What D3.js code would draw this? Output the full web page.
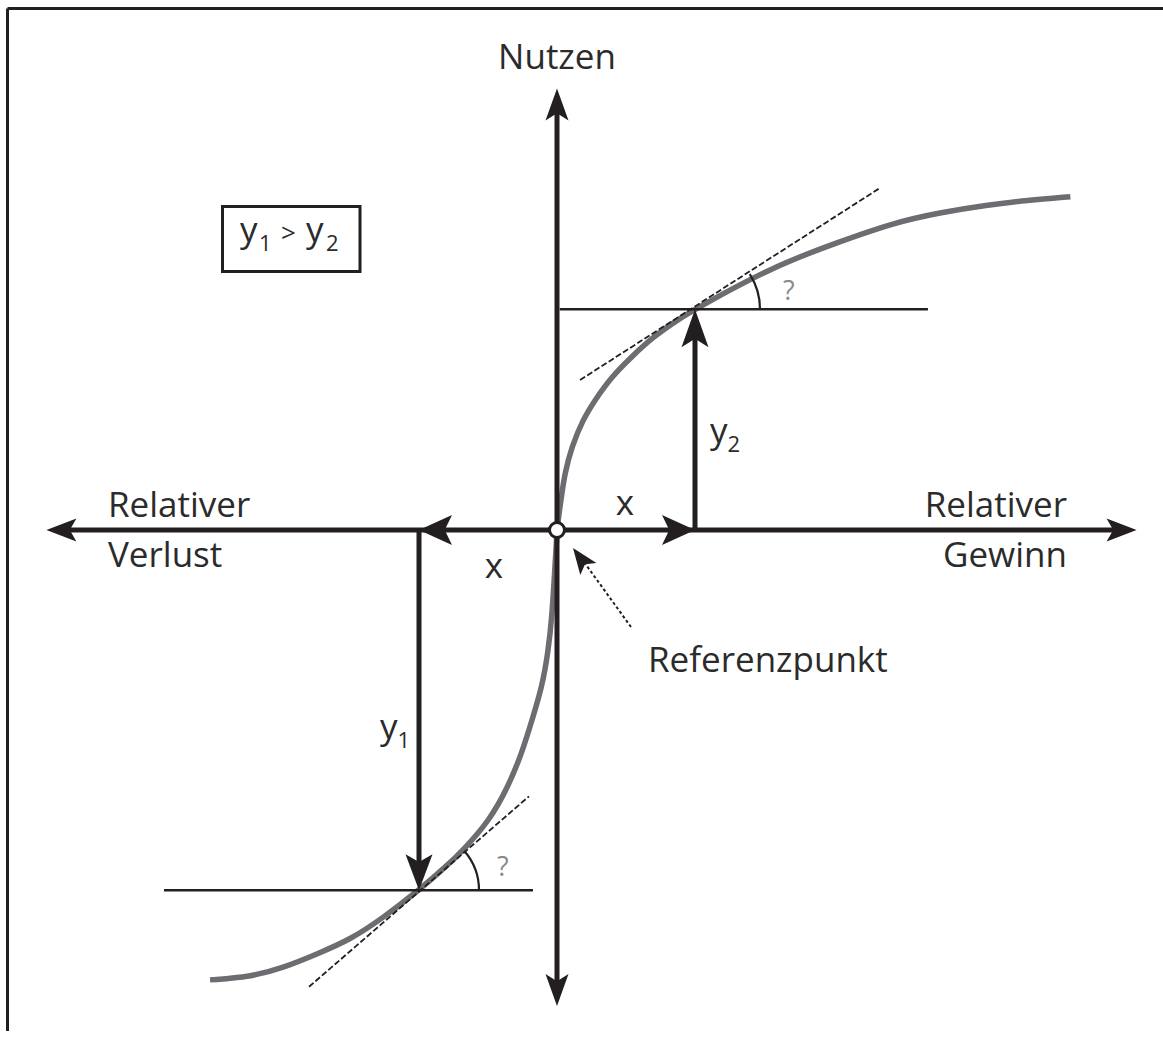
<!DOCTYPE html>
<html>
<head>
<meta charset="utf-8">
<script src="https://cdn.jsdelivr.net/npm/d3@7"></script>
<style>
  body { margin: 0; background: #fff; }
  svg text { font-family: "Open Sans", "DejaVu Sans", sans-serif; fill: #2b2b2b; }
</style>
</head>
<body>
<div id="chart"></div>
<script>
// value function (Wertfunktion), units: x step = 100
var axisExtentX = [-370, 420];
var axisExtentY = [-345, 320];

var curveLoss = [
  [-251.4, -326], [-222.5, -323.9], [-198.6, -317.4], [-173.9, -307.2],
  [-150, -297], [-126, -281], [-100, -261], [-80, -243.5], [-68, -232],
  [-48.6, -210.1], [-35.5, -186.2], [-25.4, -161.6], [-18.1, -137.7],
  [-10.9, -113.8], [-6.5, -89.1], [-3.6, -62], [-1.8, -32], [-0.6, -12]
];
var curveGain = [
  [0, 0], [1.2, 10], [3.2, 24], [5.6, 41], [10.7, 60.4], [18.6, 79.7], [27.5, 94.2],
  [39.6, 111.1], [54.1, 125.6], [69.8, 140.1], [89.1, 153.4], [100, 160], [156.5, 191],
  [205, 209], [243.5, 222.5], [277.5, 230], [311.6, 235.5], [340.6, 238.8], [372, 241.5]
];

var xGain = 100, xLoss = -100;   // x
var yGain = 160, yLoss = -261;   // y2, y1

var tangentGain = [[16.7, 108.7], [234, 247.8]];
var tangentLoss = [[-179.7, -331], [-20.3, -193]];
var helperGain = [2, 268.8];
var helperLoss = [-284.8, -17.4];

var width = 1163, height = 1037;
var ink = "#231f20";

var x = d3.scaleLinear().domain(axisExtentX).range([46.4, 1136.6]);
var y = d3.scaleLinear().domain(axisExtentY).range([1006.1, 88.4]);

var svg = d3.select("#chart").append("svg")
  .attr("width", width)
  .attr("height", height);

// frame (top + left only)
svg.append("line").attr("x1", 7.5).attr("x2", width).attr("y1", 8.5).attr("y2", 8.5)
  .attr("stroke", ink).attr("stroke-width", 3);
svg.append("line").attr("x1", 7.5).attr("x2", 7.5).attr("y1", 8.5).attr("y2", 1031)
  .attr("stroke", ink).attr("stroke-width", 3);

var line = d3.line()
  .x(function (d) { return x(d[0]); })
  .y(function (d) { return y(d[1]); })
  .curve(d3.curveBasis);

// value curve
svg.append("path")
  .attr("d", line(curveLoss.concat(curveGain)))
  .attr("fill", "none")
  .attr("stroke", "#6c6c71")
  .attr("stroke-width", 5.5);

function arrowHead(tx, ty, angle, L, W) {
  var pts = [[0, 0], [-L, -W / 2], [-L * 0.78, 0], [-L, W / 2]];
  svg.append("polygon")
    .attr("points", pts.map(function (p) { return p.join(","); }).join(" "))
    .attr("transform", "translate(" + tx + "," + ty + ") rotate(" + angle + ")")
    .attr("fill", ink);
}

function seg(x1, y1, x2, y2, w, dash) {
  var l = svg.append("line")
    .attr("x1", x1).attr("y1", y1).attr("x2", x2).attr("y2", y2)
    .attr("stroke", ink).attr("stroke-width", w);
  if (dash) l.attr("stroke-dasharray", dash);
  return l;
}

// axes
seg(x(axisExtentX[0]) + 20, y(0), x(axisExtentX[1]) - 20, y(0), 5);
seg(x(0), y(axisExtentY[1]) + 20, x(0), y(axisExtentY[0]) - 20, 5);
arrowHead(x(axisExtentX[1]), y(0), 0, 30, 23);
arrowHead(x(axisExtentX[0]), y(0), 180, 30, 23);
arrowHead(x(0), y(axisExtentY[1]), -90, 32, 23);
arrowHead(x(0), y(axisExtentY[0]), 90, 32, 23);

// horizontal helper lines
seg(x(helperGain[0]), y(yGain), x(helperGain[1]), y(yGain), 2.5);
seg(x(helperLoss[0]), y(yLoss), x(helperLoss[1]), y(yLoss), 2.5);

// vertical y arrows
seg(x(xGain), y(0), x(xGain), y(yGain) + 20, 5);
seg(x(xLoss), y(0), x(xLoss), y(yLoss) - 20, 5);
arrowHead(x(xGain), y(yGain), -90, 38, 27);
arrowHead(x(xLoss), y(yLoss), 90, 36, 27);

// x arrows on the horizontal axis
arrowHead(x(xGain), y(0), 0, 33, 30);
arrowHead(x(xLoss), y(0), 180, 33, 30);

// tangents
seg(x(tangentGain[0][0]), y(tangentGain[0][1]), x(tangentGain[1][0]), y(tangentGain[1][1]), 1.8, "6,2.5");
seg(x(tangentLoss[0][0]), y(tangentLoss[0][1]), x(tangentLoss[1][0]), y(tangentLoss[1][1]), 1.8, "6,2.5");

// angle arcs
function angleArc(cx, cy, t, r) {
  var a = Math.atan2(-(y(t[1][1]) - y(t[0][1])), x(t[1][0]) - x(t[0][0]));
  var arc = d3.arc().innerRadius(r).outerRadius(r)
    .startAngle(Math.PI / 2 - a).endAngle(Math.PI / 2);
  svg.append("path")
    .attr("d", arc())
    .attr("transform", "translate(" + cx + "," + cy + ")")
    .attr("fill", "none").attr("stroke", ink).attr("stroke-width", 2.2);
}
angleArc(x(xGain), y(yGain), tangentGain, 65);
angleArc(x(xLoss), y(yLoss), tangentLoss, 60);

// reference point pointer
seg(631, 627, 584, 562, 2, "3,2.5");
arrowHead(573, 548, Math.atan2(548 - 627, 573 - 631) * 180 / Math.PI, 26, 20);

// reference point
svg.append("circle")
  .attr("cx", x(0)).attr("cy", y(0)).attr("r", 7.5)
  .attr("fill", "#fff").attr("stroke", ink).attr("stroke-width", 3);

// labels
function label(tx, ty, str, anchor, size) {
  return svg.append("text")
    .attr("x", tx).attr("y", ty)
    .attr("text-anchor", anchor || "start")
    .style("font-size", (size || 35) + "px")
    .text(str);
}
label(557, 69, "Nutzen", "middle");
label(1067, 517, "Relativer", "end");
label(1067, 567, "Gewinn", "end");
label(108, 517, "Relativer", "start");
label(108, 567, "Verlust", "start");
label(625, 515, "x", "middle");
label(494, 578, "x", "middle");
label(648, 672, "Referenzpunkt", "start");
label(783, 300, "?", "start", 27).style("fill", "#8a8a8a");
label(497, 876, "?", "start", 27).style("fill", "#8a8a8a");

function yLabel(tx, ty, sub) {
  var t = svg.append("text").attr("x", tx).attr("y", ty).style("font-size", "35px");
  t.append("tspan").text("y");
  t.append("tspan").attr("dy", 9).style("font-size", "22px").text(sub);
  return t;
}
yLabel(710, 443, "2");
yLabel(380, 739, "1");

// y1 > y2 box
svg.append("rect")
  .attr("x", 222.5).attr("y", 206.5).attr("width", 137.5).attr("height", 65)
  .attr("fill", "none").attr("stroke", ink).attr("stroke-width", 3);
var bt = svg.append("text").attr("y", 242).style("font-size", "35px");
bt.append("tspan").attr("x", 240).text("y");
bt.append("tspan").attr("x", 259).attr("y", 251).style("font-size", "22px").text("1");
bt.append("tspan").attr("x", 281).attr("y", 242).style("font-size", "26px").text(">");
bt.append("tspan").attr("x", 306).attr("y", 242).text("y");
bt.append("tspan").attr("x", 326).attr("y", 251).style("font-size", "22px").text("2");
</script>
</body>
</html>
